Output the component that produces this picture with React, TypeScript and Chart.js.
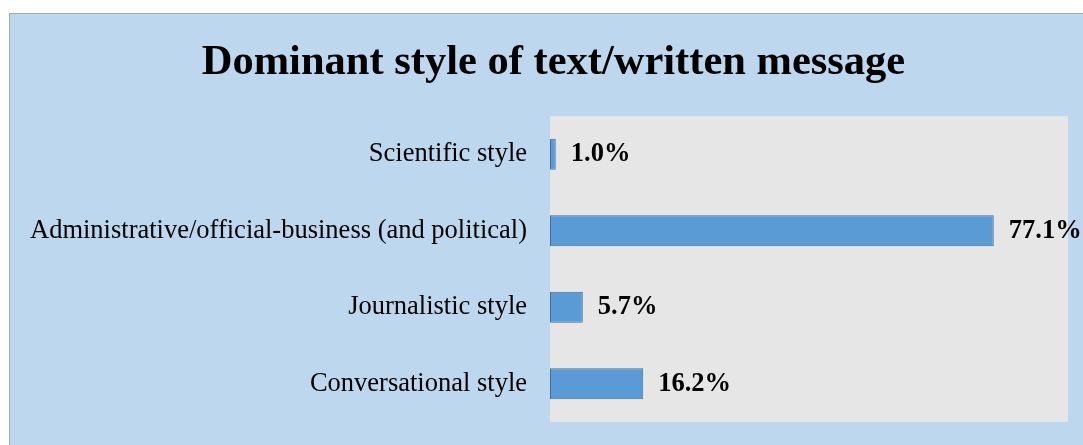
import { useEffect, useRef } from "react";
import { Chart, registerables } from "chart.js";
Chart.register(...registerables);

const categories = [
  "Scientific style",
  "Administrative/official-business (and political)",
  "Journalistic style",
  "Conversational style",
];
const shares = [1.0, 77.1, 5.7, 16.2];
const axisMax = 90;
const chartTitle = "Dominant style of text/written message";

const SERIF = '"Liberation Serif", "Times New Roman", serif';

// grey plot area behind the bars
const plotBackground = {
  id: "plotBackground",
  beforeDraw(chart: Chart) {
    const { ctx, chartArea } = chart;
    ctx.save();
    ctx.fillStyle = "#E7E6E6";
    ctx.fillRect(chartArea.left, chartArea.top, chartArea.width, chartArea.height);
    ctx.restore();
  },
};

// title is drawn by hand: it is centred a bit right of the canvas middle
const titleText = {
  id: "titleText",
  afterDraw(chart: Chart) {
    const ctx = chart.ctx;
    ctx.save();
    ctx.font = `bold 42.5px ${SERIF}`;
    ctx.fillStyle = "#000";
    ctx.textAlign = "center";
    ctx.textBaseline = "alphabetic";
    ctx.fillText(chartTitle, 543.5, 59.5);
    ctx.restore();
  },
};

// bold value labels right of each bar
const valueLabels = {
  id: "valueLabels",
  afterDatasetsDraw(chart: Chart) {
    const ctx = chart.ctx;
    const meta = chart.getDatasetMeta(0);
    ctx.save();
    ctx.font = `bold 26.5px ${SERIF}`;
    ctx.fillStyle = "#000";
    ctx.textAlign = "left";
    ctx.textBaseline = "middle";
    meta.data.forEach((bar: any, i: number) => {
      ctx.fillText(shares[i].toFixed(1) + "%", bar.x + 15, bar.y);
    });
    ctx.restore();
  },
};

const StyleChart = () => {
  const canvasRef = useRef<HTMLCanvasElement>(null);

  useEffect(() => {
    const canvas = canvasRef.current;
    if (!canvas) return;

    const chart = new Chart(canvas, {
      type: "bar",
      data: {
        labels: categories,
        datasets: [
          {
            data: shares,
            backgroundColor: "#5B9BD5",
            borderColor: "#41719C",
            borderWidth: 1,
            borderSkipped: false,
            categoryPercentage: 1,
            barPercentage: 0.405,
          },
        ],
      },
      options: {
        indexAxis: "y",
        responsive: false,
        animation: false,
        layout: { padding: { left: 0, right: 15, top: 102, bottom: 23 } },
        plugins: {
          legend: { display: false },
          tooltip: { enabled: false },
          title: { display: false },
        },
        scales: {
          x: { display: false, min: 0, max: axisMax },
          y: {
            grid: { display: false, drawTicks: false },
            border: { display: false },
            ticks: {
              color: "#000",
              padding: 23,
              font: { family: SERIF, size: 26.5 },
            },
            afterFit: (scale: any) => {
              scale.width = 540;
              scale.paddingTop = 0;
              scale.paddingBottom = 0;
            },
          },
        },
      },
      plugins: [plotBackground, valueLabels, titleText],
    });

    return () => {
      chart.destroy();
    };
  }, []);

  return (
    <div
      style={{
        position: "fixed",
        left: 0,
        top: 0,
        width: 1083,
        height: 445,
        overflow: "hidden",
        background: "#fff",
      }}
    >
      <div
        style={{
          position: "absolute",
          left: 9,
          top: 13,
          width: 1090,
          height: 450,
          border: "1px solid #A6A6A6",
          background: "#BDD7EE",
        }}
      />
      <canvas
        ref={canvasRef}
        width={1073}
        height={431}
        style={{ position: "absolute", left: 10, top: 14, width: 1073, height: 431 }}
      />
    </div>
  );
};

export default function App() {
  return <StyleChart />;
}
